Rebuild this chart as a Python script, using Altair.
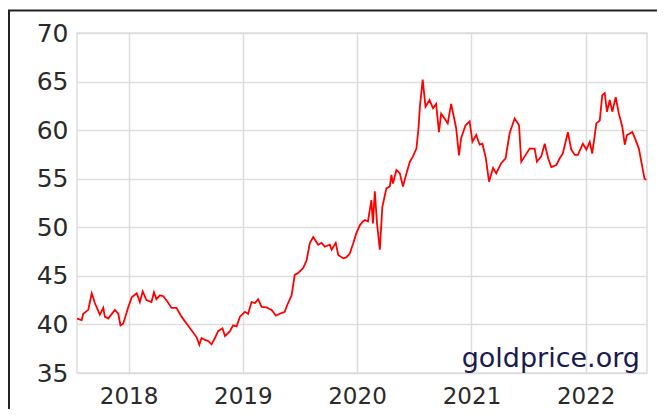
import altair as alt
import pandas as pd

# Gold price (per gram)
dates = [
    "2017-07-20", "2017-08-04", "2017-08-09", "2017-08-25", "2017-09-05", "2017-09-15",
    "2017-10-01", "2017-10-12", "2017-10-17", "2017-10-28", "2017-11-18", "2017-11-29",
    "2017-12-06", "2017-12-15", "2017-12-31", "2018-01-11", "2018-01-27", "2018-02-06",
    "2018-02-15", "2018-02-27", "2018-03-15", "2018-03-23", "2018-03-31", "2018-04-11",
    "2018-04-22", "2018-05-08", "2018-05-18", "2018-06-03", "2018-06-19", "2018-07-05",
    "2018-07-21", "2018-08-06", "2018-08-15", "2018-08-22", "2018-09-02", "2018-09-12",
    "2018-09-23", "2018-10-04", "2018-10-14", "2018-10-28", "2018-11-05", "2018-11-21",
    "2018-12-01", "2018-12-12", "2018-12-23", "2019-01-08", "2019-01-18", "2019-01-29",
    "2019-02-09", "2019-02-19", "2019-03-02", "2019-03-18", "2019-04-03", "2019-04-17",
    "2019-04-29", "2019-05-15", "2019-05-23", "2019-06-06", "2019-06-16", "2019-06-27",
    "2019-07-13", "2019-07-24", "2019-08-03", "2019-08-14", "2019-08-30", "2019-09-10",
    "2019-09-20", "2019-10-06", "2019-10-12", "2019-10-25", "2019-11-02", "2019-11-18",
    "2019-11-28", "2019-12-09", "2019-12-20", "2019-12-30", "2020-01-10", "2020-01-20",
    "2020-01-26", "2020-02-05", "2020-02-16", "2020-02-21", "2020-02-27", "2020-03-05",
    "2020-03-14", "2020-03-22", "2020-04-04", "2020-04-15", "2020-04-20", "2020-04-25",
    "2020-05-06", "2020-05-17", "2020-05-27", "2020-06-07", "2020-06-18", "2020-06-28",
    "2020-07-09", "2020-07-16", "2020-07-20", "2020-07-29", "2020-08-07", "2020-08-20",
    "2020-08-31", "2020-09-10", "2020-09-19", "2020-09-26", "2020-10-07", "2020-10-17",
    "2020-10-28", "2020-11-13", "2020-11-22", "2020-11-29", "2020-12-13", "2020-12-26",
    "2021-01-04", "2021-01-16", "2021-01-27", "2021-02-05", "2021-02-16", "2021-02-26",
    "2021-03-11", "2021-03-21", "2021-04-06", "2021-04-20", "2021-05-03", "2021-05-19",
    "2021-06-02", "2021-06-09", "2021-06-20", "2021-07-06", "2021-07-22", "2021-07-29",
    "2021-08-12", "2021-08-23", "2021-09-03", "2021-09-13", "2021-09-29", "2021-10-10",
    "2021-10-20", "2021-11-05", "2021-11-16", "2021-11-27", "2021-12-07", "2021-12-23",
    "2022-01-03", "2022-01-14", "2022-01-22", "2022-02-04", "2022-02-15", "2022-02-23",
    "2022-03-03", "2022-03-10", "2022-03-19", "2022-03-27", "2022-04-07", "2022-04-17",
    "2022-04-28", "2022-05-06", "2022-05-13", "2022-05-30", "2022-06-07", "2022-06-20",
    "2022-07-01", "2022-07-08", "2022-07-14",
]
prices = [
    40.6, 40.45, 41.1, 41.5, 43.2, 42.2,
    41.0, 41.7, 40.8, 40.6, 41.5, 41.1,
    39.9, 40.1, 41.8, 42.8, 43.2, 42.3,
    43.4, 42.5, 42.3, 43.3, 42.6, 43.0,
    42.9, 42.2, 41.7, 41.7, 40.8, 40.1,
    39.4, 38.7, 37.9, 38.6, 38.4, 38.3,
    37.95, 38.6, 39.3, 39.6, 38.8, 39.3,
    39.9, 39.8, 40.8, 41.3, 41.1, 42.3,
    42.2, 42.6, 41.8, 41.75, 41.5, 40.9,
    41.1, 41.3, 42.0, 43.0, 45.1, 45.3,
    45.8, 46.6, 48.35, 49.0, 48.2, 48.4,
    48.0, 48.2, 47.7, 48.4, 47.15, 46.8,
    46.9, 47.3, 48.35, 49.4, 50.2, 50.6,
    50.75, 50.6, 52.8, 50.4, 53.7, 50.4,
    47.7, 52.1, 54.0, 54.2, 55.4, 54.5,
    55.9, 55.55, 54.2, 55.55, 56.75, 57.3,
    58.1, 60.35, 62.4, 65.2, 62.4, 63.1,
    62.25, 62.7, 59.8, 61.7, 61.2, 60.7,
    62.7, 60.2, 57.4, 59.2, 60.5, 60.9,
    58.8, 59.5, 58.5, 58.6, 57.1, 54.7,
    56.1, 55.55, 56.6, 57.1, 59.7, 61.2,
    60.5, 56.75, 57.3, 58.1, 58.1, 56.75,
    57.3, 58.6, 57.1, 56.2, 56.4, 57.1,
    57.6, 59.8, 58.0, 57.45, 57.45, 58.6,
    58.0, 58.8, 57.6, 60.7, 61.0, 63.6,
    63.8, 61.9, 63.1, 61.9, 63.4, 61.7,
    60.35, 58.5, 59.5, 59.8, 59.2, 58.1,
    56.2, 55.0, 54.9,
]
y_ticks = [35, 40, 45, 50, 55, 60, 65, 70]
watermark = "goldprice.org"

df = pd.DataFrame({"date": dates, "price": prices})

W, H = 570, 340
FONT = "DejaVu Sans"

line = alt.Chart(df).mark_line(color="#ff0000", strokeWidth=1.8).encode(
    x=alt.X(
        "date:T",
        title=None,
        scale=alt.Scale(domain=[alt.DateTime(year=2017, month=7, date=20),
                                alt.DateTime(year=2022, month=7, date=16)]),
        axis=alt.Axis(format="%Y", tickCount="year", grid=True, gridColor="#dddddd",
                      gridWidth=1.5, ticks=False, domain=False, labelFontSize=23,
                      labelColor="#2a2a2a", labelPadding=12, labelFont=FONT),
    ),
    y=alt.Y(
        "price:Q",
        title=None,
        scale=alt.Scale(domain=[35, 70], nice=False, zero=False),
        axis=alt.Axis(values=y_ticks, grid=True, gridColor="#dddddd", gridWidth=1.5,
                      ticks=False, domain=False, labelFontSize=25,
                      labelColor="#2a2a2a", labelPadding=9, labelFont=FONT),
    ),
)

one = pd.DataFrame({"t": [watermark]})

text = alt.Chart(one).mark_text(
    align="right", baseline="alphabetic", fontSize=27, font=FONT, color="#1a1a4e"
).encode(x=alt.value(563), y=alt.value(334), text="t:N")

top_border = alt.Chart(one).mark_rule(color="#222222", strokeWidth=2).encode(
    x=alt.value(-69), x2=alt.value(W + 20), y=alt.value(-22.5)
)
left_border = alt.Chart(one).mark_rule(color="#222222", strokeWidth=2).encode(
    x=alt.value(-68), y=alt.value(-23), y2=alt.value(H + 60)
)

chart = alt.layer(line, text, top_border, left_border).properties(
    width=W, height=H,
    autosize=alt.AutoSizeParams(type="none"),
    padding={"left": 69, "top": 25, "right": 10, "bottom": 36},
).configure(font=FONT).configure_view(stroke="#dddddd", strokeWidth=1.5)

chart.save("out.html", embed_options={"renderer": "svg", "actions": False})
